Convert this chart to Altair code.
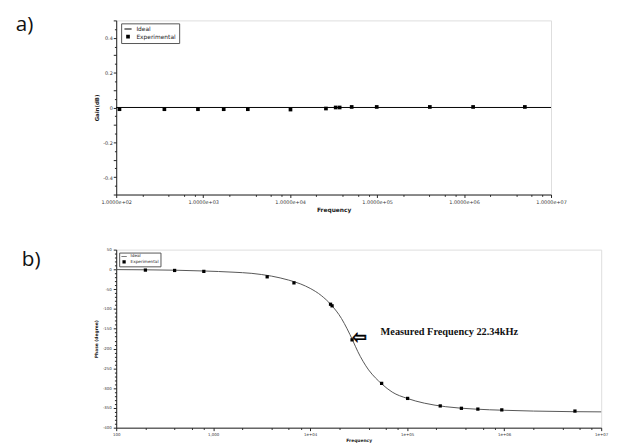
import altair as alt
import pandas as pd

# ---------------- data ----------------
series_names = ["Ideal", "Experimental"]
panel_labels = ["a)", "b)"]

# a) gain
gain_freq = [109, 358, 871, 1722, 3260, 10090, 25800, 33400, 37100, 51000, 99000, 404000, 1270000, 5000000]
gain_db = [-0.01, -0.01, -0.01, -0.01, -0.01, -0.012, -0.006, 0.0, 0.0, 0.003, 0.003, 0.003, 0.003, 0.003]
gain_ideal_freq = [100, 10000000]
gain_ideal_db = [0.0, 0.0]

# b) phase
phase_freq = [200, 400, 800, 3600, 6800, 16200, 16800, 27000, 54500, 101000, 219000, 362000, 535000, 944000, 5360000]
phase_deg = [-1.7, -2.6, -5, -18.7, -34, -88, -92, -178, -288, -326, -345, -351, -353, -355, -358]
phase_ideal_freq = [100, 200, 400, 800, 1600, 2500, 4000, 6000, 8000, 10000, 13000, 16500, 21000, 24000,
                    27500, 31000, 35000, 40000, 47000, 55000, 70000, 100000, 150000, 250000, 500000,
                    1000000, 2000000, 5000000, 10000000]
phase_ideal_deg = [-0.5, -1, -2, -4, -7, -10, -17, -27, -37, -48, -66, -90, -124, -150,
                   -180, -208, -232, -254, -274, -290, -310, -326, -338, -347, -353,
                   -356, -358, -359.5, -360]

annotation_text = "Measured Frequency 22.34kHz"
annotation_arrow = "\u21e6"
annotation_freq = 27000
annotation_phase = -178

# tick positions
x_ticks = [m * 10 ** e for e in range(2, 7) for m in (1, 2, 4, 6, 8)] + [10 ** 7]
gain_ticks = [round(-0.5 + 0.05 * i, 2) for i in range(21)]
phase_ticks = list(range(-400, 51, 10))

# legend symbol shapes: a thin bar for the line, a square for the points
LINE_SYMBOL = "M-1,-0.13H1V0.13H-1Z"
symbol_shapes = [LINE_SYMBOL, "square"]

# ---------------- tables ----------------
df_gain = pd.DataFrame({"freq": gain_freq, "value": gain_db, "series": series_names[1]})
df_gain_ideal = pd.DataFrame({"freq": gain_ideal_freq, "value": gain_ideal_db, "series": series_names[0]})
df_phase = pd.DataFrame({"freq": phase_freq, "value": phase_deg, "series": series_names[1]})
df_phase_ideal = pd.DataFrame({"freq": phase_ideal_freq, "value": phase_ideal_deg, "series": series_names[0]})
df_ann = pd.DataFrame({"freq": [annotation_freq], "value": [annotation_phase],
                       "arrow": [annotation_arrow], "label": [annotation_text]})

DECADE = "abs(log(datum.value)/LN10 - round(log(datum.value)/LN10)) < 1e-6"

AX = dict(grid=False, domainColor="#222", tickColor="#222", labelColor="#333",
          labelFont="DejaVu Sans", titleFont="DejaVu Sans", titleFontWeight="bold",
          titleColor="#222", labelOverlap=False, labelFlush=False)

# ---------------- panel a ----------------
xa = alt.X("freq:Q",
           scale=alt.Scale(type="log", domain=[100, 10000000], nice=False),
           axis=alt.Axis(values=x_ticks, title="Frequency", titleFontSize=6, titlePadding=2,
                         labelFontSize=5, labelPadding=2,
                         labelExpr=f"{DECADE} ? '1.0000e+0' + round(log(datum.value)/LN10) : ''",
                         tickSize={"condition": {"test": DECADE, "value": 3}, "value": 1.8},
                         **AX))
ya = alt.Y("value:Q",
           scale=alt.Scale(domain=[-0.5, 0.5], nice=False, zero=False),
           axis=alt.Axis(values=gain_ticks, title="Gain(dB)", titleFontSize=5.5, titlePadding=3,
                         labelFontSize=5, labelPadding=1,
                         labelExpr="abs(datum.value) < 0.45 && abs(datum.value*5 - round(datum.value*5)) < 1e-6 ? '' + datum.value : ''",
                         tickSize={"condition": {"test": "abs(datum.value*10 - round(datum.value*10)) < 1e-6", "value": 3}, "value": 1.8},
                         **AX))

leg_a = alt.Legend(title=None, orient="none", legendX=5, legendY=3, strokeColor="#555",
                   fillColor="white", padding=2.5, labelFontSize=6, labelFont="DejaVu Sans",
                   labelColor="#222", symbolFillColor="black", clipHeight=6.5,
                   rowPadding=0.7, labelOffset=4, offset=0)

line_a = alt.Chart(df_gain_ideal).mark_line(color="black", strokeWidth=1).encode(x=xa, y=ya)
pts_a = alt.Chart(df_gain).mark_point(filled=True, opacity=1, fill="black", strokeWidth=0).encode(
    x=xa, y=ya,
    shape=alt.Shape("series:N", scale=alt.Scale(domain=series_names, range=symbol_shapes), legend=leg_a),
    size=alt.Size("series:N", scale=alt.Scale(type="point", domain=series_names, range=[53, 14], padding=0), legend=leg_a),
)
lab_a = alt.Chart(pd.DataFrame({"t": [panel_labels[0]]})).mark_text(
    align="left", baseline="middle", fontSize=21, font="Open Sans", color="#111"
).encode(text="t:N", x=alt.value(-102), y=alt.value(5))

top = alt.layer(line_a, pts_a, lab_a).properties(width=442, height=177)

# ---------------- panel b ----------------
xb = alt.X("freq:Q",
           scale=alt.Scale(type="log", domain=[100, 10000000], nice=False),
           axis=alt.Axis(values=x_ticks, title="Frequency", titleFontSize=4.5, titlePadding=1,
                         labelFontSize=4, labelPadding=2,
                         labelExpr=f"{DECADE} ? (datum.value <= 1000 ? format(datum.value, ',') : '1e+0' + round(log(datum.value)/LN10)) : ''",
                         tickSize={"condition": {"test": DECADE, "value": 3}, "value": 1.8},
                         **AX))
yb = alt.Y("value:Q",
           scale=alt.Scale(domain=[-400, 50], nice=False, zero=False),
           axis=alt.Axis(values=phase_ticks, title="Phase (degree)", titleFontSize=4.5, titlePadding=4,
                         labelFontSize=4, labelPadding=2,
                         labelExpr="datum.value % 50 == 0 ? '' + datum.value : ''",
                         tickSize={"condition": {"test": "datum.value % 50 == 0", "value": 3}, "value": 1.8},
                         **AX))

leg_b = alt.Legend(title=None, orient="none", legendX=3, legendY=3, strokeColor="#555",
                   fillColor="white", padding=1.5, labelFontSize=4.3, labelFont="DejaVu Sans",
                   labelColor="#222", symbolFillColor="black", clipHeight=5,
                   rowPadding=0.4, labelOffset=3, offset=0)

line_b = alt.Chart(df_phase_ideal).mark_line(color="#555", strokeWidth=1, interpolate="monotone").encode(x=xb, y=yb)
pts_b = alt.Chart(df_phase).mark_point(filled=True, opacity=1, fill="black", strokeWidth=0).encode(
    x=xb, y=yb,
    shape=alt.Shape("series:N", scale=alt.Scale(domain=series_names, range=symbol_shapes), legend=leg_b),
    size=alt.Size("series:N", scale=alt.Scale(type="point", domain=series_names, range=[30, 11], padding=0), legend=leg_b),
)
arrow_b = alt.Chart(df_ann).mark_text(
    align="left", baseline="middle", font="DejaVu Sans", fontSize=18, fontWeight="bold",
    dx=0, dy=-2, color="black", stroke="black", strokeWidth=0.45
).encode(x=xb, y=yb, text="arrow:N")
text_b = alt.Chart(df_ann).mark_text(
    align="left", baseline="middle", font="Liberation Serif", fontSize=10.5, fontWeight="bold", dx=29, dy=-8, color="#111"
).encode(x=xb, y=yb, text="label:N")
lab_b = alt.Chart(pd.DataFrame({"t": [panel_labels[1]]})).mark_text(
    align="left", baseline="middle", fontSize=21, font="Open Sans", color="#111"
).encode(text="t:N", x=alt.value(-96), y=alt.value(11))

bottom = alt.layer(line_b, pts_b, arrow_b, text_b, lab_b).properties(width=493, height=181)

chart = alt.concat(top, bottom, columns=1, spacing=34, align="none").resolve_scale(
    shape="independent", size="independent"
).resolve_legend(
    shape="independent", size="independent"
).properties(
    padding={"left": 7, "top": 2, "right": 5, "bottom": 0}
).configure_view(stroke=None).configure(background="white")

chart.save("out.html", embed_options={"renderer": "svg", "actions": False})
